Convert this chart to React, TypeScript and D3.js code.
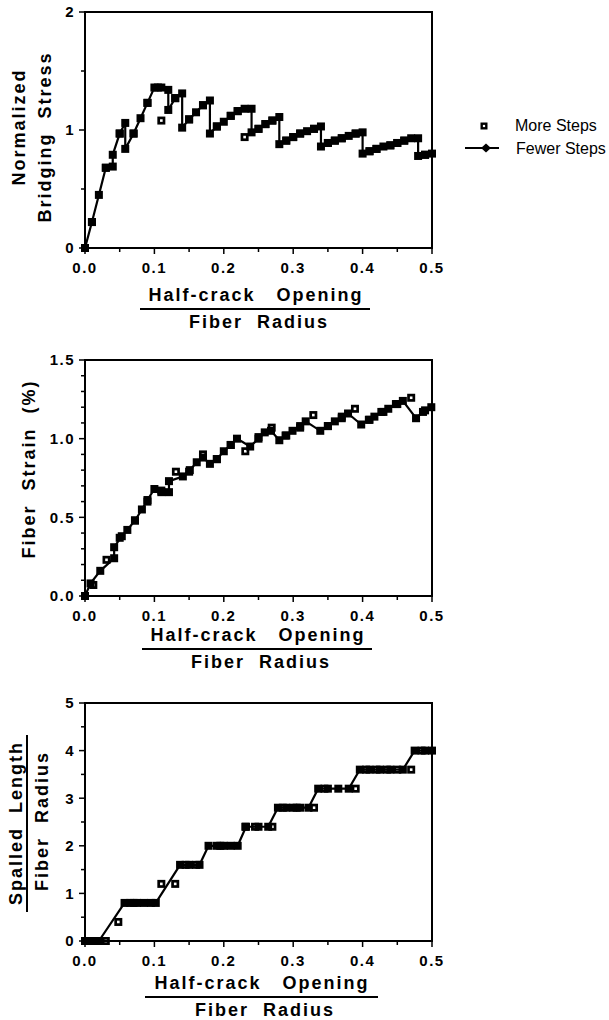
import React from "react";
import * as d3 from "d3";

// x ticks shared by all three panels
const xMajor = [0, 0.1, 0.2, 0.3, 0.4, 0.5];
const xMinor = [0.05, 0.15, 0.25, 0.35, 0.45];

// normalized bridging stress
const stressFewer: [number, number][] = [
  [0, 0], [0.01, 0.22], [0.02, 0.45], [0.03, 0.68], [0.04, 0.69], [0.04, 0.79],
  [0.05, 0.97], [0.058, 1.06], [0.058, 0.84], [0.07, 0.97], [0.08, 1.1], [0.09, 1.23],
  [0.1, 1.36], [0.11, 1.36], [0.12, 1.34], [0.12, 1.17], [0.13, 1.27], [0.14, 1.31],
  [0.14, 1.02], [0.15, 1.09], [0.16, 1.15], [0.17, 1.21], [0.18, 1.25], [0.18, 0.97],
  [0.19, 1.03], [0.2, 1.07], [0.21, 1.12], [0.22, 1.16], [0.23, 1.18], [0.24, 1.18],
  [0.24, 0.98], [0.25, 1.01], [0.26, 1.05], [0.27, 1.08], [0.28, 1.11], [0.28, 0.88],
  [0.29, 0.91], [0.3, 0.94], [0.31, 0.97], [0.32, 0.99], [0.33, 1.01], [0.34, 1.03],
  [0.34, 0.86], [0.35, 0.89], [0.36, 0.91], [0.37, 0.93], [0.38, 0.95], [0.39, 0.97],
  [0.4, 0.98], [0.4, 0.8], [0.41, 0.82], [0.42, 0.84], [0.43, 0.86], [0.44, 0.87],
  [0.45, 0.89], [0.46, 0.91], [0.47, 0.93], [0.48, 0.93], [0.48, 0.78], [0.49, 0.79],
  [0.5, 0.8],
];
const stressMore: [number, number][] = [
  [0.01, 0.22], [0.03, 0.68], [0.05, 0.97], [0.07, 0.97], [0.09, 1.23], [0.105, 1.36],
  [0.11, 1.08], [0.13, 1.27], [0.15, 1.09], [0.17, 1.21], [0.19, 1.03], [0.21, 1.12],
  [0.22, 1.16], [0.23, 0.94], [0.25, 1.01], [0.26, 1.05], [0.27, 1.08], [0.29, 0.91],
  [0.3, 0.94], [0.31, 0.97], [0.33, 1.01], [0.35, 0.89], [0.36, 0.91], [0.37, 0.93],
  [0.39, 0.97], [0.41, 0.82], [0.42, 0.84], [0.44, 0.87], [0.45, 0.89], [0.46, 0.91],
  [0.49, 0.79],
];

// fiber strain (%)
const strainFewer: [number, number][] = [
  [0, 0], [0.008, 0.08], [0.022, 0.16], [0.042, 0.24], [0.042, 0.31], [0.053, 0.38],
  [0.061, 0.42], [0.072, 0.48], [0.082, 0.55], [0.09, 0.61], [0.1, 0.68], [0.11, 0.67],
  [0.121, 0.66], [0.121, 0.73], [0.141, 0.76], [0.151, 0.8], [0.161, 0.85], [0.17, 0.88],
  [0.18, 0.84], [0.19, 0.87], [0.2, 0.92], [0.21, 0.96], [0.219, 1.0], [0.238, 0.95],
  [0.25, 1.0], [0.259, 1.04], [0.268, 1.05], [0.28, 0.99], [0.289, 1.02], [0.299, 1.05],
  [0.31, 1.08], [0.318, 1.11], [0.339, 1.05], [0.35, 1.08], [0.36, 1.11], [0.37, 1.14],
  [0.379, 1.16], [0.398, 1.09], [0.409, 1.12], [0.417, 1.14], [0.427, 1.17], [0.437, 1.19],
  [0.448, 1.22], [0.458, 1.24], [0.477, 1.13], [0.487, 1.17], [0.499, 1.2],
];
const strainMore: [number, number][] = [
  [0.012, 0.07], [0.031, 0.23], [0.05, 0.37], [0.072, 0.48], [0.09, 0.6], [0.11, 0.66],
  [0.131, 0.79], [0.15, 0.79], [0.17, 0.9], [0.19, 0.87], [0.21, 0.96], [0.231, 0.92],
  [0.25, 1.01], [0.269, 1.07], [0.29, 1.02], [0.31, 1.07], [0.329, 1.15], [0.35, 1.08],
  [0.37, 1.13], [0.389, 1.19], [0.41, 1.12], [0.43, 1.17], [0.45, 1.22], [0.47, 1.26],
  [0.49, 1.18],
];

// spalled length / fiber radius
const spallFewer: [number, number][] = [
  [0, 0], [0.01, 0], [0.02, 0], [0.057, 0.8], [0.065, 0.8], [0.075, 0.8], [0.085, 0.8],
  [0.095, 0.8], [0.102, 0.8], [0.137, 1.6], [0.15, 1.6], [0.165, 1.6], [0.178, 2.0],
  [0.19, 2.0], [0.2, 2.0], [0.21, 2.0], [0.22, 2.0], [0.232, 2.4], [0.25, 2.4],
  [0.264, 2.4], [0.278, 2.8], [0.29, 2.8], [0.3, 2.8], [0.31, 2.8], [0.322, 2.8],
  [0.336, 3.2], [0.35, 3.2], [0.365, 3.2], [0.38, 3.2], [0.396, 3.6], [0.41, 3.6],
  [0.425, 3.6], [0.44, 3.6], [0.458, 3.6], [0.475, 4.0], [0.49, 4.0], [0.5, 4.0],
];
const spallMore: [number, number][] = [
  [0.03, 0], [0.048, 0.4], [0.07, 0.8], [0.11, 1.2], [0.13, 1.2], [0.145, 1.6],
  [0.16, 1.6], [0.195, 2.0], [0.231, 2.4], [0.245, 2.4], [0.27, 2.4], [0.285, 2.8],
  [0.305, 2.8], [0.33, 2.8], [0.345, 3.2], [0.39, 3.2], [0.405, 3.6], [0.42, 3.6],
  [0.435, 3.6], [0.45, 3.6], [0.47, 3.6], [0.485, 4.0],
];

const FONT = "'Liberation Sans', Arial, Helvetica, sans-serif";
const X0 = 85;
const X1 = 432;

type PanelProps = {
  top: number;
  bottom: number;
  yMax: number;
  yMajor: number[];
  yMinor: number[];
  yFormat: (v: number) => string;
  fewer: [number, number][];
  more: [number, number][];
  titleY: number;
  titleCx: number;
  lineX: [number, number];
  yTitle: React.ReactNode;
};

function Panel(p: PanelProps) {
  const x = d3.scaleLinear().domain([0, 0.5]).range([X0, X1]);
  const y = d3.scaleLinear().domain([0, p.yMax]).range([p.bottom, p.top]);
  const line = d3
    .line<[number, number]>()
    .x((d) => x(d[0]))
    .y((d) => y(d[1]));

  return (
    <g>
      {/* open squares, drawn first so the filled ones cover them */}
      {p.more.map((d, i) => (
        <g key={"m" + i} transform={`translate(${x(d[0])},${y(d[1])})`}>
          <rect x={-4} y={-4} width={8} height={8} fill="#000" />
          <rect x={-1.3} y={-1.3} width={2.6} height={2.6} fill="#fff" />
        </g>
      ))}
      <path d={line(p.fewer) ?? ""} fill="none" stroke="#000" strokeWidth={2.2} />
      {p.fewer.map((d, i) => (
        <rect
          key={"f" + i}
          x={x(d[0]) - 4}
          y={y(d[1]) - 4}
          width={8}
          height={8}
          fill="#000"
        />
      ))}

      {/* frame */}
      <rect
        x={X0}
        y={p.top}
        width={X1 - X0}
        height={p.bottom - p.top}
        fill="none"
        stroke="#000"
        strokeWidth={2}
      />

      {/* x ticks */}
      {xMajor.map((v) => (
        <g key={"xt" + v}>
          <line x1={x(v)} x2={x(v)} y1={p.bottom} y2={p.bottom + 6} stroke="#000" strokeWidth={1.5} />
          <text
            x={x(v)}
            y={p.bottom + 25}
            textAnchor="middle"
            fontSize={15}
            fontWeight="bold"
            letterSpacing={1.5}
          >
            {d3.format(".1f")(v)}
          </text>
        </g>
      ))}
      {xMinor.map((v) => (
        <line key={"xm" + v} x1={x(v)} x2={x(v)} y1={p.bottom} y2={p.bottom + 4} stroke="#000" strokeWidth={1.5} />
      ))}

      {/* y ticks */}
      {p.yMajor.map((v) => (
        <g key={"yt" + v}>
          <line x1={X0 - 6} x2={X0} y1={y(v)} y2={y(v)} stroke="#000" strokeWidth={1.5} />
          <text
            x={75}
            y={y(v)}
            dy="0.36em"
            textAnchor="end"
            fontSize={15}
            fontWeight="bold"
            letterSpacing={1.5}
          >
            {p.yFormat(v)}
          </text>
        </g>
      ))}
      {p.yMinor.map((v) => (
        <line key={"ym" + v} x1={X0 - 4} x2={X0} y1={y(v)} y2={y(v)} stroke="#000" strokeWidth={1.5} />
      ))}

      {/* x title as a fraction */}
      <g fontSize={18} fontWeight="bold" letterSpacing={2} textAnchor="middle">
        <text x={p.titleCx} y={p.titleY}>
          {"Half-crack\u00a0\u00a0 Opening"}
        </text>
        <line x1={p.lineX[0]} x2={p.lineX[1]} y1={p.titleY + 8} y2={p.titleY + 8} stroke="#000" strokeWidth={2} />
        <text x={p.titleCx + 3} y={p.titleY + 27}>
          {"Fiber\u00a0 Radius"}
        </text>
      </g>

      {p.yTitle}
    </g>
  );
}

export default function App() {
  return (
    <svg
      width={609}
      height={1020}
      style={{ position: "absolute", left: 0, top: 0, background: "#fff" }}
      fontFamily={FONT}
    >
      <Panel
        top={12}
        bottom={248}
        yMax={2}
        yMajor={[0, 1, 2]}
        yMinor={[0.5, 1.5]}
        yFormat={d3.format("d")}
        fewer={stressFewer}
        more={stressMore}
        titleY={301}
        titleCx={256}
        lineX={[140, 370]}
        yTitle={
          <g fontSize={18} fontWeight="bold" letterSpacing={2} textAnchor="middle">
            <text transform="translate(25,127) rotate(-90)">Normalized</text>
            <text transform="translate(51,137) rotate(-90)">{"Bridging\u00a0 Stress"}</text>
          </g>
        }
      />
      <Panel
        top={360}
        bottom={596}
        yMax={1.5}
        yMajor={[0, 0.5, 1, 1.5]}
        yMinor={d3.range(1, 15).filter((i) => i % 5 !== 0).map((i) => i / 10)}
        yFormat={d3.format(".1f")}
        fewer={strainFewer}
        more={strainMore}
        titleY={641}
        titleCx={258}
        lineX={[142, 372]}
        yTitle={
          <g fontSize={18} fontWeight="bold" letterSpacing={2} textAnchor="middle">
            <text transform="translate(35,469) rotate(-90)">{"Fiber\u00a0 Strain\u00a0 (%)"}</text>
          </g>
        }
      />
      <Panel
        top={703}
        bottom={941}
        yMax={5}
        yMajor={[0, 1, 2, 3, 4, 5]}
        yMinor={[0.5, 1.5, 2.5, 3.5, 4.5]}
        yFormat={d3.format("d")}
        fewer={spallFewer}
        more={spallMore}
        titleY={989}
        titleCx={262}
        lineX={[145, 378]}
        yTitle={
          <g fontSize={18} fontWeight="bold" letterSpacing={2} textAnchor="middle">
            <text transform="translate(22,823) rotate(-90)">{"Spalled\u00a0 Length"}</text>
            <line x1={27} x2={27} y1={735} y2={912} stroke="#000" strokeWidth={2} />
            <text transform="translate(48,821) rotate(-90)">{"Fiber\u00a0 Radius"}</text>
          </g>
        }
      />

      {/* legend */}
      <g transform="translate(484,126)">
        <rect x={-3.5} y={-3.5} width={7} height={7} fill="#000" />
        <rect x={-1.1} y={-1.1} width={2.2} height={2.2} fill="#fff" />
      </g>
      <text x={515} y={131} fontSize={16}>
        More Steps
      </text>
      <line x1={465} x2={499} y1={148} y2={148} stroke="#000" strokeWidth={2} />
      <path d="M486,143.5 L491,148 L486,152.5 L481,148 Z" fill="#000" />
      <text x={516} y={154} fontSize={16}>
        Fewer Steps
      </text>
    </svg>
  );
}
